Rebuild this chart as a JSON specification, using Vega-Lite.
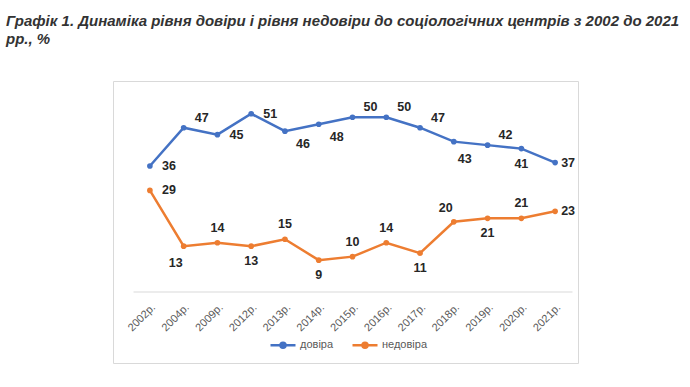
{
  "$schema": "https://vega.github.io/schema/vega-lite/v6.json",
  "width": 465,
  "height": 282,
  "autosize": {"type": "none"},
  "padding": {"left": 113, "top": 81, "right": 112, "bottom": 24},
  "background": "white",
  "title": {
    "text": ["Графік 1. Динаміка рівня довіри і рівня недовіри до соціологічних центрів  з 2002 до 2021", "рр., %"],
    "anchor": "start",
    "dx": -107,
    "dy": -30,
    "font": "Liberation Sans",
    "fontSize": 15,
    "fontStyle": "italic",
    "fontWeight": "bold",
    "color": "#333333",
    "lineHeight": 18
  },
  "config": {
    "view": {"stroke": "#d9d9d9", "strokeWidth": 1},
    "font": "Liberation Sans"
  },
  "data": {
    "values": [
      {"year": "2002р.", "s": "довіра", "v": 36},
      {"year": "2004р.", "s": "довіра", "v": 47},
      {"year": "2009р.", "s": "довіра", "v": 45},
      {"year": "2012р.", "s": "довіра", "v": 51},
      {"year": "2013р.", "s": "довіра", "v": 46},
      {"year": "2014р.", "s": "довіра", "v": 48},
      {"year": "2015р.", "s": "довіра", "v": 50},
      {"year": "2016р.", "s": "довіра", "v": 50},
      {"year": "2017р.", "s": "довіра", "v": 47},
      {"year": "2018р.", "s": "довіра", "v": 43},
      {"year": "2019р.", "s": "довіра", "v": 42},
      {"year": "2020р.", "s": "довіра", "v": 41},
      {"year": "2021р.", "s": "довіра", "v": 37},
      {"year": "2002р.", "s": "недовіра", "v": 29},
      {"year": "2004р.", "s": "недовіра", "v": 13},
      {"year": "2009р.", "s": "недовіра", "v": 14},
      {"year": "2012р.", "s": "недовіра", "v": 13},
      {"year": "2013р.", "s": "недовіра", "v": 15},
      {"year": "2014р.", "s": "недовіра", "v": 9},
      {"year": "2015р.", "s": "недовіра", "v": 10},
      {"year": "2016р.", "s": "недовіра", "v": 14},
      {"year": "2017р.", "s": "недовіра", "v": 11},
      {"year": "2018р.", "s": "недовіра", "v": 20},
      {"year": "2019р.", "s": "недовіра", "v": 21},
      {"year": "2020р.", "s": "недовіра", "v": 21},
      {"year": "2021р.", "s": "недовіра", "v": 23}
    ]
  },
  "encoding": {
    "x": {
      "field": "year",
      "type": "nominal",
      "sort": null,
      "bandPosition": 0.5,
      "scale": {"type": "band", "range": [20, 459], "paddingInner": 0, "paddingOuter": 0},
      "axis": {
        "title": null,
        "offset": -71.5,
        "domainColor": "#d9d9d9",
        "domainWidth": 1,
        "ticks": false,
        "labelAngle": -45,
        "labelAlign": "right",
        "labelBaseline": "middle",
        "labelPadding": 14,
        "labelOffset": 4,
        "labelFontSize": 11,
        "labelColor": "#595959",
        "labelFont": "Liberation Sans"
      }
    },
    "y": {
      "field": "v",
      "type": "quantitative",
      "scale": {"domain": [0, 60], "range": [210.5, 1.4], "nice": false, "zero": false},
      "axis": null
    }
  },
  "layer": [
    {
      "mark": {"type": "line", "strokeWidth": 2.5, "point": {"filled": true, "size": 32}},
      "encoding": {
        "color": {
          "field": "s",
          "type": "nominal",
          "scale": {"domain": ["довіра", "недовіра"], "range": ["#4472C4", "#ED7D31"]},
          "legend": {
            "title": null,
            "orient": "none",
            "direction": "horizontal",
            "legendX": 156,
            "legendY": 250,
            "symbolType": "M-1,0L1,0M-0.2,0a0.2,0.2 0 1,0 0.4,0a0.2,0.2 0 1,0 -0.4,0",
            "symbolSize": 625,
            "symbolStrokeWidth": 2.5,
            "labelFontSize": 11,
            "labelColor": "#595959",
            "labelFont": "Liberation Sans",
            "labelOffset": 3,
            "columnPadding": 13,
            "encode": {"symbols": {"update": {"fill": {"scale": "color", "field": "value"}}}}
          }
        }
      }
    },
    {
      "transform": [{"filter": {"or": [
        {"and": [{"field": "s", "equal": "довіра"}, {"field": "year", "oneOf": ["2002р.", "2009р.", "2012р."]}]},
        {"and": [{"field": "s", "equal": "недовіра"}, {"field": "year", "oneOf": ["2002р."]}]}
      ]}}],
      "mark": {"type": "text", "dx": 19, "dy": 0, "fontWeight": "bold", "fontSize": 12.5, "color": "#262626"},
      "encoding": {"text": {"field": "v"}}
    },
    {
      "transform": [{"filter": {"field": "year", "oneOf": ["2021р."]}}],
      "mark": {"type": "text", "dx": 13, "dy": 0, "fontWeight": "bold", "fontSize": 12.5, "color": "#262626"},
      "encoding": {"text": {"field": "v"}}
    },
    {
      "transform": [{"filter": {"and": [{"field": "s", "equal": "довіра"}, {"field": "year", "oneOf": ["2004р.", "2015р.", "2016р.", "2017р.", "2019р."]}]}}],
      "mark": {"type": "text", "dx": 18, "dy": -10, "fontWeight": "bold", "fontSize": 12.5, "color": "#262626"},
      "encoding": {"text": {"field": "v"}}
    },
    {
      "transform": [{"filter": {"and": [{"field": "s", "equal": "довіра"}, {"field": "year", "oneOf": ["2013р.", "2014р."]}]}}],
      "mark": {"type": "text", "dx": 18, "dy": 13, "fontWeight": "bold", "fontSize": 12.5, "color": "#262626"},
      "encoding": {"text": {"field": "v"}}
    },
    {
      "transform": [{"filter": {"and": [{"field": "s", "equal": "довіра"}, {"field": "year", "oneOf": ["2018р."]}]}}],
      "mark": {"type": "text", "dx": 11, "dy": 17, "fontWeight": "bold", "fontSize": 12.5, "color": "#262626"},
      "encoding": {"text": {"field": "v"}}
    },
    {
      "transform": [{"filter": {"or": [
        {"and": [{"field": "s", "equal": "довіра"}, {"field": "year", "oneOf": ["2020р."]}]},
        {"and": [{"field": "s", "equal": "недовіра"}, {"field": "year", "oneOf": ["2012р.", "2014р.", "2017р.", "2019р."]}]}
      ]}}],
      "mark": {"type": "text", "dx": 0, "dy": 15, "fontWeight": "bold", "fontSize": 12.5, "color": "#262626"},
      "encoding": {"text": {"field": "v"}}
    },
    {
      "transform": [{"filter": {"and": [{"field": "s", "equal": "недовіра"}, {"field": "year", "oneOf": ["2004р."]}]}}],
      "mark": {"type": "text", "dx": -8, "dy": 17, "fontWeight": "bold", "fontSize": 12.5, "color": "#262626"},
      "encoding": {"text": {"field": "v"}}
    },
    {
      "transform": [{"filter": {"and": [{"field": "s", "equal": "недовіра"}, {"field": "year", "oneOf": ["2009р.", "2013р.", "2015р.", "2016р.", "2020р."]}]}}],
      "mark": {"type": "text", "dx": 0, "dy": -15, "fontWeight": "bold", "fontSize": 12.5, "color": "#262626"},
      "encoding": {"text": {"field": "v"}}
    },
    {
      "transform": [{"filter": {"and": [{"field": "s", "equal": "недовіра"}, {"field": "year", "oneOf": ["2018р."]}]}}],
      "mark": {"type": "text", "dx": -8, "dy": -14, "fontWeight": "bold", "fontSize": 12.5, "color": "#262626"},
      "encoding": {"text": {"field": "v"}}
    }
  ]
}
